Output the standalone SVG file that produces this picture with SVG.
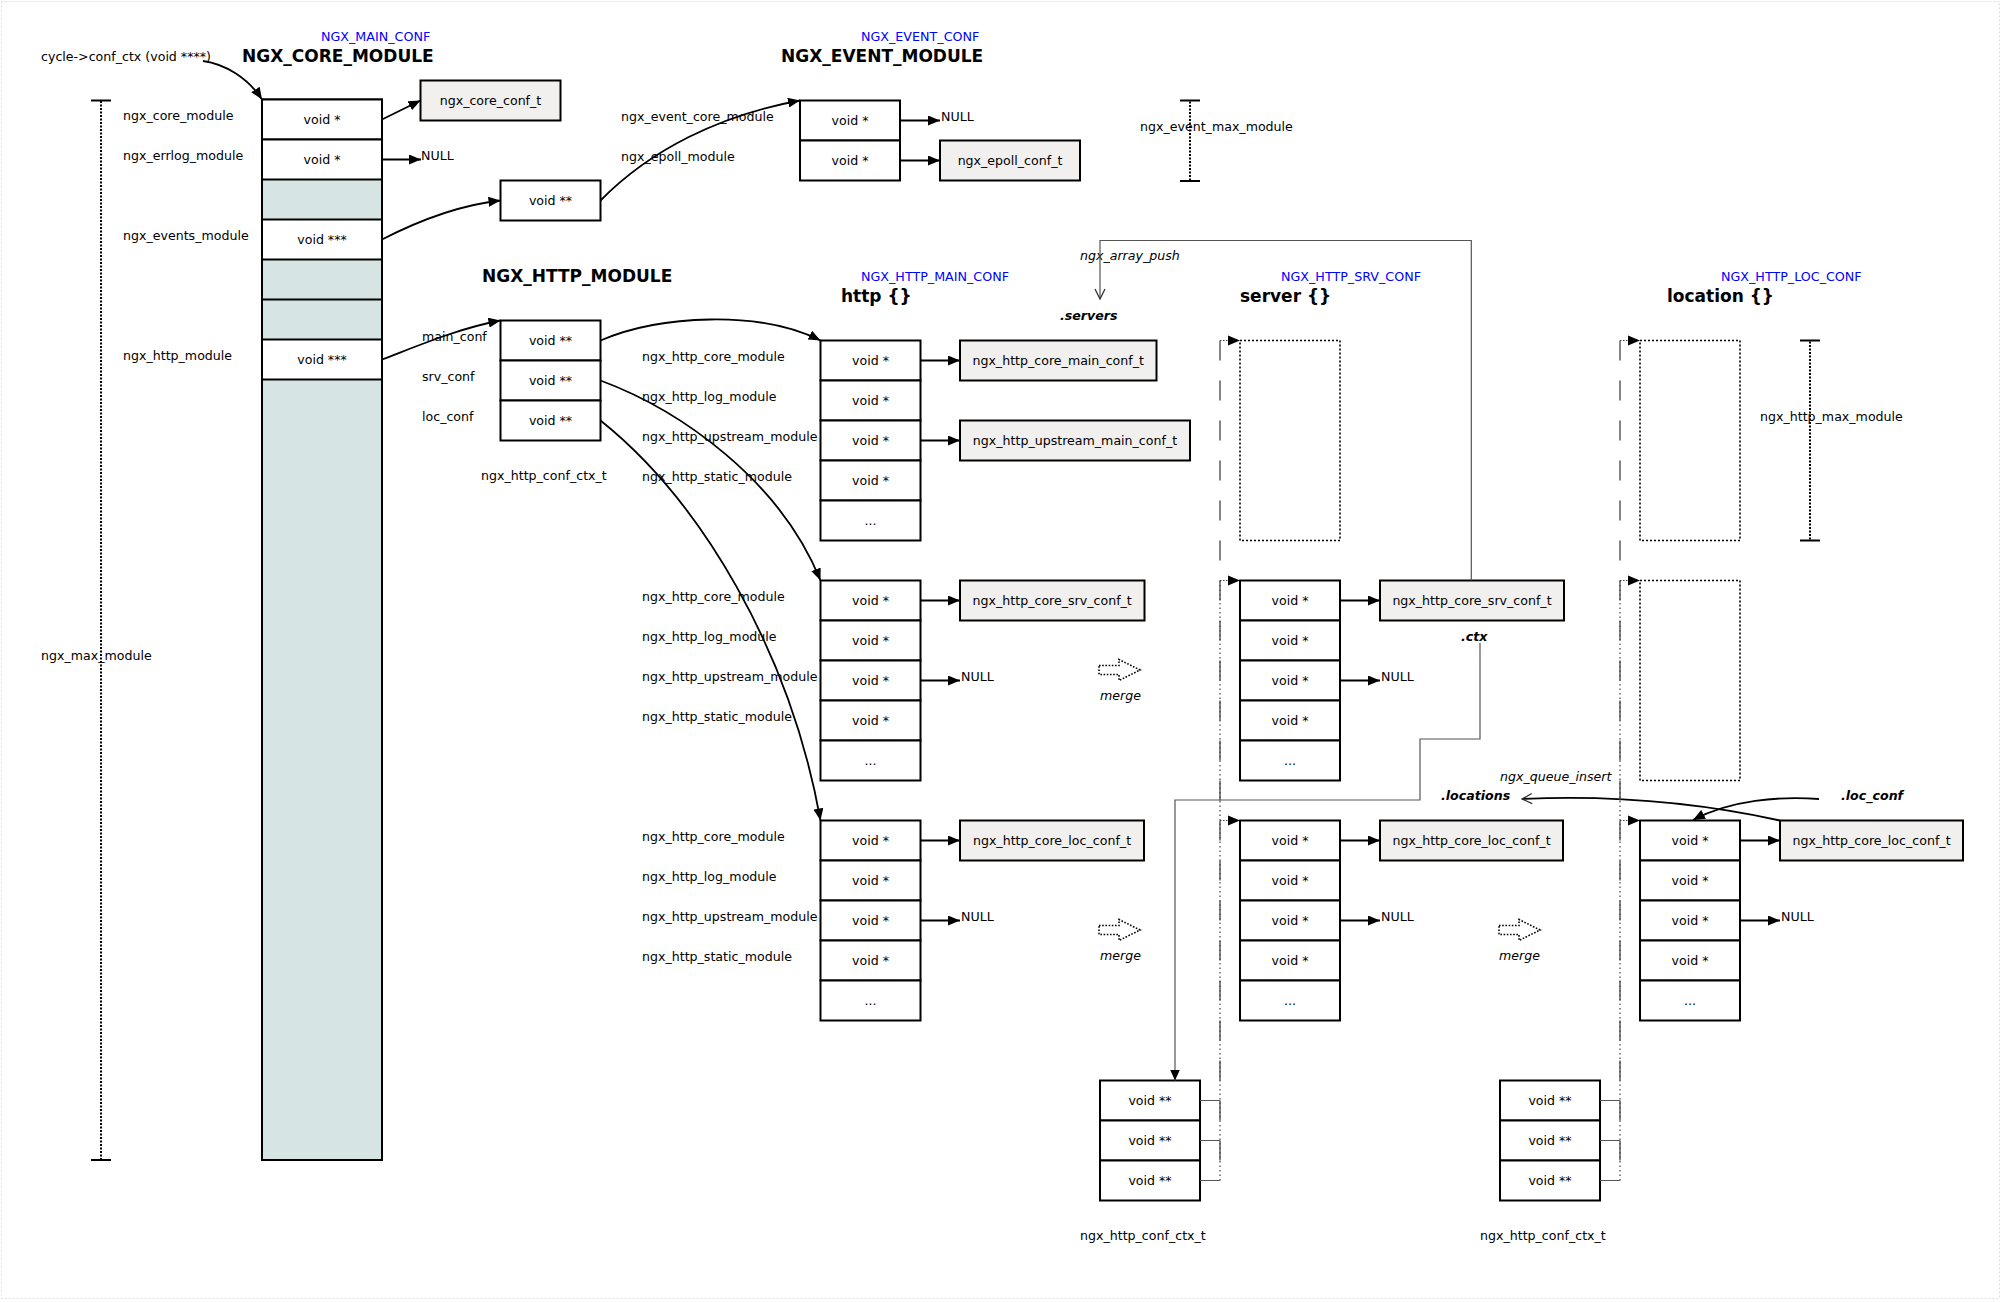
<svg xmlns="http://www.w3.org/2000/svg" width="2002" height="1302" viewBox="0 0 2002 1302">
<style>
.t{font-family:"DejaVu Sans",sans-serif;font-size:12.6px;fill:#000}
.c{text-anchor:middle}
.h{font-weight:bold;font-size:17px}
.bl{fill:#0000ff;font-size:12.7px}
.i{font-style:italic}
.bi{font-weight:bold;font-style:italic}
.cell{fill:#fff;stroke:#000;stroke-width:2}
.sh{fill:#d7e4e4;stroke:#000;stroke-width:2}
.gb{fill:#f1f0ee;stroke:#000;stroke-width:2}
.dot{fill:none;stroke:#000;stroke-width:1.6;stroke-dasharray:2 2}
.br{stroke:#000;stroke-width:2;stroke-dasharray:2 1.5}
.tk{stroke:#000;stroke-width:2}
.ar{fill:none;stroke:#000;stroke-width:1.8}
.gl{fill:none;stroke:#555;stroke-width:1.2}
.mg{fill:none;stroke:#000;stroke-width:1.6;stroke-dasharray:1.6 1.6}
</style>
<defs>
<marker id="ah" viewBox="0 0 12 10" refX="12" refY="5" markerWidth="12" markerHeight="10" markerUnits="userSpaceOnUse" orient="auto"><path d="M0,0 L12,5 L0,10 z" fill="#000"/></marker>
<marker id="ah2" viewBox="0 0 11 10" refX="11" refY="5" markerWidth="11" markerHeight="10" markerUnits="userSpaceOnUse" orient="auto"><path d="M0,0 L11,5 L0,10 z" fill="#000"/></marker>
<marker id="oh" viewBox="0 0 12 12" refX="11" refY="6" markerWidth="12" markerHeight="12" markerUnits="userSpaceOnUse" orient="auto"><path d="M1,1 L11,6 L1,11" fill="none" stroke="#333" stroke-width="1.3"/></marker>
<polygon id="mergeArrow" points="0,-4.5 20,-4.5 20,-10.5 41,0 20,10.5 20,4.5 0,4.5" class="mg"/>
</defs>
<rect x="1.5" y="1.5" width="1998" height="1297" fill="#fff" stroke="#ddd" stroke-width="1" stroke-dasharray="2 2"/>

<!-- headers -->
<g id="headers">
<text class="t bl" x="321" y="41">NGX_MAIN_CONF</text>
<text class="t h" x="242" y="62">NGX_CORE_MODULE</text>
<text class="t bl" x="861" y="41">NGX_EVENT_CONF</text>
<text class="t h" x="781" y="62">NGX_EVENT_MODULE</text>
<text class="t h" x="482" y="282">NGX_HTTP_MODULE</text>
<text class="t bl" x="861" y="281">NGX_HTTP_MAIN_CONF</text>
<text class="t h" x="841" y="302">http {}</text>
<text class="t bl" x="1281" y="281">NGX_HTTP_SRV_CONF</text>
<text class="t h" x="1240" y="302">server {}</text>
<text class="t bl" x="1721" y="281">NGX_HTTP_LOC_CONF</text>
<text class="t h" x="1667" y="302">location {}</text>
<text class="t" x="41" y="61">cycle-&gt;conf_ctx (void ****)</text>
</g>

<!-- ngx_max_module bracket -->
<g id="max-module">
<line class="br" x1="101" y1="101" x2="101" y2="1159"/>
<line class="tk" x1="91" y1="100.5" x2="111" y2="100.5"/>
<line class="tk" x1="91" y1="1160" x2="111" y2="1160"/>
<text class="t" x="41" y="660">ngx_max_module</text>
</g>

<!-- core array -->
<g id="core-array">
<rect class="sh" x="262" y="99.5" width="120" height="1060.5"/>
<rect class="cell" x="262" y="99.5" width="120" height="40"/>
<rect class="cell" x="262" y="139.5" width="120" height="40"/>
<rect class="cell" x="262" y="219.5" width="120" height="40"/>
<rect class="cell" x="262" y="339.5" width="120" height="40"/>
<line class="tk" x1="262" y1="299.5" x2="382" y2="299.5"/>
<text class="t c" x="322" y="124">void *</text>
<text class="t c" x="322" y="164">void *</text>
<text class="t c" x="322" y="244">void ***</text>
<text class="t c" x="322" y="364">void ***</text>
<text class="t" x="123" y="120">ngx_core_module</text>
<text class="t" x="123" y="160">ngx_errlog_module</text>
<text class="t" x="123" y="240">ngx_events_module</text>
<text class="t" x="123" y="360">ngx_http_module</text>
<text class="t" x="421" y="160">NULL</text>
</g>

<g id="core-conf">
<rect class="gb" x="420.5" y="80.5" width="140" height="40"/>
<text class="t c" x="490.5" y="105">ngx_core_conf_t</text>
</g>

<g id="event-ctx">
<rect class="cell" x="500.5" y="180.5" width="100" height="40"/>
<text class="t c" x="550.5" y="205">void **</text>
</g>

<g id="event-array">
<rect class="cell" x="800" y="100.5" width="100" height="40"/>
<rect class="cell" x="800" y="140.5" width="100" height="40"/>
<text class="t c" x="850" y="125">void *</text>
<text class="t c" x="850" y="165">void *</text>
<text class="t" x="621" y="121">ngx_event_core_module</text>
<text class="t" x="621" y="161">ngx_epoll_module</text>
<text class="t" x="941" y="121">NULL</text>
</g>

<g id="epoll-conf">
<rect class="gb" x="940" y="140.5" width="140" height="40"/>
<text class="t c" x="1010" y="165">ngx_epoll_conf_t</text>
</g>

<g id="event-max">
<line class="br" x1="1190" y1="101.5" x2="1190" y2="180"/>
<line class="tk" x1="1180" y1="100.5" x2="1200" y2="100.5"/>
<line class="tk" x1="1180" y1="181" x2="1200" y2="181"/>
<text class="t" x="1140" y="131">ngx_event_max_module</text>
</g>

<g id="http-ctx">
<rect class="cell" x="500.5" y="320.5" width="100" height="40"/>
<rect class="cell" x="500.5" y="360.5" width="100" height="40"/>
<rect class="cell" x="500.5" y="400.5" width="100" height="40"/>
<text class="t c" x="550.5" y="345">void **</text>
<text class="t c" x="550.5" y="385">void **</text>
<text class="t c" x="550.5" y="425">void **</text>
<text class="t" x="422" y="341">main_conf</text>
<text class="t" x="422" y="381">srv_conf</text>
<text class="t" x="422" y="421">loc_conf</text>
<text class="t" x="481" y="480">ngx_http_conf_ctx_t</text>
</g>

<!-- http main array -->
<g id="http-main-array">
<rect class="cell" x="820.5" y="340.5" width="100" height="40"/>
<rect class="cell" x="820.5" y="380.5" width="100" height="40"/>
<rect class="cell" x="820.5" y="420.5" width="100" height="40"/>
<rect class="cell" x="820.5" y="460.5" width="100" height="40"/>
<rect class="cell" x="820.5" y="500.5" width="100" height="40"/>
<text class="t c" x="870.5" y="365">void *</text>
<text class="t c" x="870.5" y="405">void *</text>
<text class="t c" x="870.5" y="445">void *</text>
<text class="t c" x="870.5" y="485">void *</text>
<text class="t c" x="870.5" y="525">...</text>
<text class="t" x="642" y="361">ngx_http_core_module</text>
<text class="t" x="642" y="401">ngx_http_log_module</text>
<text class="t" x="642" y="441">ngx_http_upstream_module</text>
<text class="t" x="642" y="481">ngx_http_static_module</text>
</g>
<g id="core-main-conf">
<rect class="gb" x="960" y="340.5" width="196.5" height="40"/>
<text class="t c" x="1058.2" y="365">ngx_http_core_main_conf_t</text>
</g>
<g id="upstream-main-conf">
<rect class="gb" x="960" y="420.5" width="230" height="40"/>
<text class="t c" x="1075" y="445">ngx_http_upstream_main_conf_t</text>
</g>

<!-- http srv array -->
<g id="http-srv-array">
<rect class="cell" x="820.5" y="580.5" width="100" height="40"/>
<rect class="cell" x="820.5" y="620.5" width="100" height="40"/>
<rect class="cell" x="820.5" y="660.5" width="100" height="40"/>
<rect class="cell" x="820.5" y="700.5" width="100" height="40"/>
<rect class="cell" x="820.5" y="740.5" width="100" height="40"/>
<text class="t c" x="870.5" y="605">void *</text>
<text class="t c" x="870.5" y="645">void *</text>
<text class="t c" x="870.5" y="685">void *</text>
<text class="t c" x="870.5" y="725">void *</text>
<text class="t c" x="870.5" y="765">...</text>
<text class="t" x="642" y="601">ngx_http_core_module</text>
<text class="t" x="642" y="641">ngx_http_log_module</text>
<text class="t" x="642" y="681">ngx_http_upstream_module</text>
<text class="t" x="642" y="721">ngx_http_static_module</text>
<text class="t" x="961" y="681">NULL</text>
</g>
<g id="http-core-srv-conf">
<rect class="gb" x="960" y="580.5" width="184.5" height="40"/>
<text class="t c" x="1052.2" y="605">ngx_http_core_srv_conf_t</text>
</g>

<!-- http loc array -->
<g id="http-loc-array">
<rect class="cell" x="820.5" y="820.5" width="100" height="40"/>
<rect class="cell" x="820.5" y="860.5" width="100" height="40"/>
<rect class="cell" x="820.5" y="900.5" width="100" height="40"/>
<rect class="cell" x="820.5" y="940.5" width="100" height="40"/>
<rect class="cell" x="820.5" y="980.5" width="100" height="40"/>
<text class="t c" x="870.5" y="845">void *</text>
<text class="t c" x="870.5" y="885">void *</text>
<text class="t c" x="870.5" y="925">void *</text>
<text class="t c" x="870.5" y="965">void *</text>
<text class="t c" x="870.5" y="1005">...</text>
<text class="t" x="642" y="841">ngx_http_core_module</text>
<text class="t" x="642" y="881">ngx_http_log_module</text>
<text class="t" x="642" y="921">ngx_http_upstream_module</text>
<text class="t" x="642" y="961">ngx_http_static_module</text>
<text class="t" x="961" y="921">NULL</text>
</g>
<g id="http-core-loc-conf">
<rect class="gb" x="960" y="820.5" width="184" height="40"/>
<text class="t c" x="1052" y="845">ngx_http_core_loc_conf_t</text>
</g>

<g id="merge1"><use href="#mergeArrow" x="1099" y="670"/><text class="t i" x="1100" y="700">merge</text></g>
<g id="merge2"><use href="#mergeArrow" x="1099" y="930"/><text class="t i" x="1100" y="960">merge</text></g>
<g id="merge3"><use href="#mergeArrow" x="1499" y="930"/><text class="t i" x="1499" y="960">merge</text></g>

<!-- server column -->
<g id="server-main-ref"><rect class="dot" x="1240" y="340.5" width="100" height="200"/></g>
<g id="server-srv-array">
<rect class="cell" x="1240" y="580.5" width="100" height="40"/>
<rect class="cell" x="1240" y="620.5" width="100" height="40"/>
<rect class="cell" x="1240" y="660.5" width="100" height="40"/>
<rect class="cell" x="1240" y="700.5" width="100" height="40"/>
<rect class="cell" x="1240" y="740.5" width="100" height="40"/>
<text class="t c" x="1290" y="605">void *</text>
<text class="t c" x="1290" y="645">void *</text>
<text class="t c" x="1290" y="685">void *</text>
<text class="t c" x="1290" y="725">void *</text>
<text class="t c" x="1290" y="765">...</text>
<text class="t" x="1381" y="681">NULL</text>
</g>
<g id="server-core-srv-conf">
<rect class="gb" x="1380" y="580.5" width="184" height="40"/>
<text class="t c" x="1472" y="605">ngx_http_core_srv_conf_t</text>
<text class="t bi" x="1461" y="641">.ctx</text>
</g>
<g id="server-loc-array">
<rect class="cell" x="1240" y="820.5" width="100" height="40"/>
<rect class="cell" x="1240" y="860.5" width="100" height="40"/>
<rect class="cell" x="1240" y="900.5" width="100" height="40"/>
<rect class="cell" x="1240" y="940.5" width="100" height="40"/>
<rect class="cell" x="1240" y="980.5" width="100" height="40"/>
<text class="t c" x="1290" y="845">void *</text>
<text class="t c" x="1290" y="885">void *</text>
<text class="t c" x="1290" y="925">void *</text>
<text class="t c" x="1290" y="965">void *</text>
<text class="t c" x="1290" y="1005">...</text>
<text class="t" x="1381" y="921">NULL</text>
</g>
<g id="server-core-loc-conf">
<rect class="gb" x="1380" y="820.5" width="183" height="40"/>
<text class="t c" x="1471.5" y="845">ngx_http_core_loc_conf_t</text>
</g>
<g id="server-ctx">
<rect class="cell" x="1100" y="1080.5" width="100" height="40"/>
<rect class="cell" x="1100" y="1120.5" width="100" height="40"/>
<rect class="cell" x="1100" y="1160.5" width="100" height="40"/>
<text class="t c" x="1150" y="1105">void **</text>
<text class="t c" x="1150" y="1145">void **</text>
<text class="t c" x="1150" y="1185">void **</text>
<text class="t" x="1080" y="1240">ngx_http_conf_ctx_t</text>
</g>

<!-- location column -->
<g id="location-main-ref"><rect class="dot" x="1640" y="340.5" width="100" height="200"/></g>
<g id="location-srv-ref"><rect class="dot" x="1640" y="580.5" width="100" height="200"/></g>
<g id="location-loc-array">
<rect class="cell" x="1640" y="820.5" width="100" height="40"/>
<rect class="cell" x="1640" y="860.5" width="100" height="40"/>
<rect class="cell" x="1640" y="900.5" width="100" height="40"/>
<rect class="cell" x="1640" y="940.5" width="100" height="40"/>
<rect class="cell" x="1640" y="980.5" width="100" height="40"/>
<text class="t c" x="1690" y="845">void *</text>
<text class="t c" x="1690" y="885">void *</text>
<text class="t c" x="1690" y="925">void *</text>
<text class="t c" x="1690" y="965">void *</text>
<text class="t c" x="1690" y="1005">...</text>
<text class="t" x="1781" y="921">NULL</text>
</g>
<g id="location-core-loc-conf">
<rect class="gb" x="1780" y="820.5" width="183" height="40"/>
<text class="t c" x="1871.5" y="845">ngx_http_core_loc_conf_t</text>
</g>
<g id="location-ctx">
<rect class="cell" x="1500" y="1080.5" width="100" height="40"/>
<rect class="cell" x="1500" y="1120.5" width="100" height="40"/>
<rect class="cell" x="1500" y="1160.5" width="100" height="40"/>
<text class="t c" x="1550" y="1105">void **</text>
<text class="t c" x="1550" y="1145">void **</text>
<text class="t c" x="1550" y="1185">void **</text>
<text class="t" x="1480" y="1240">ngx_http_conf_ctx_t</text>
</g>
<g id="http-max">
<line class="br" x1="1810" y1="341.5" x2="1810" y2="539.5"/>
<line class="tk" x1="1800" y1="340.5" x2="1820" y2="340.5"/>
<line class="tk" x1="1800" y1="540.5" x2="1820" y2="540.5"/>
<text class="t" x="1760" y="421">ngx_http_max_module</text>
</g>

<g id="labels">
<text class="t i" x="1080" y="260">ngx_array_push</text>
<text class="t bi" x="1060" y="320">.servers</text>
<text class="t i" x="1500" y="781">ngx_queue_insert</text>
<text class="t bi" x="1441" y="800">.locations</text>
<text class="t bi" x="1841" y="800">.loc_conf</text>
</g>

<!-- connectors -->
<g id="connectors">
<path class="ar" d="M203,61 C225,64 248,78 262,99.5" marker-end="url(#ah)"/>
<line class="ar" x1="382" y1="119.5" x2="420.5" y2="100.5" marker-end="url(#ah)"/>
<line class="ar" x1="382" y1="159.5" x2="421" y2="159.5" marker-end="url(#ah)"/>
<path class="ar" d="M382,239.5 C420,220 460,205 500.5,200.5" marker-end="url(#ah)"/>
<path class="ar" d="M382,359.5 C420,345 460,328 500.5,320.5" marker-end="url(#ah)"/>
<path class="ar" d="M600.5,200.5 C650,150 720,115 800,100.5" marker-end="url(#ah)"/>
<line class="ar" x1="900" y1="120.5" x2="940" y2="120.5" marker-end="url(#ah)"/>
<line class="ar" x1="900" y1="160.5" x2="940" y2="160.5" marker-end="url(#ah)"/>
<path class="ar" d="M600.5,340.5 C660,315 760,310 820.5,340.5" marker-end="url(#ah)"/>
<path class="ar" d="M600.5,380.5 C680,410 780,480 820.5,580.5" marker-end="url(#ah)"/>
<path class="ar" d="M600.5,420.5 C700,500 790,650 820.5,820.5" marker-end="url(#ah)"/>
<line class="ar" x1="920.5" y1="360.5" x2="960" y2="360.5" marker-end="url(#ah)"/>
<line class="ar" x1="920.5" y1="440.5" x2="960" y2="440.5" marker-end="url(#ah)"/>
<line class="ar" x1="920.5" y1="600.5" x2="960" y2="600.5" marker-end="url(#ah)"/>
<line class="ar" x1="920.5" y1="680.5" x2="960" y2="680.5" marker-end="url(#ah)"/>
<line class="ar" x1="920.5" y1="840.5" x2="960" y2="840.5" marker-end="url(#ah)"/>
<line class="ar" x1="920.5" y1="920.5" x2="960" y2="920.5" marker-end="url(#ah)"/>
<line class="ar" x1="1340" y1="600.5" x2="1380" y2="600.5" marker-end="url(#ah)"/>
<line class="ar" x1="1340" y1="680.5" x2="1380" y2="680.5" marker-end="url(#ah)"/>
<line class="ar" x1="1340" y1="840.5" x2="1380" y2="840.5" marker-end="url(#ah)"/>
<line class="ar" x1="1340" y1="920.5" x2="1380" y2="920.5" marker-end="url(#ah)"/>
<line class="ar" x1="1740" y1="840.5" x2="1780" y2="840.5" marker-end="url(#ah)"/>
<line class="ar" x1="1740" y1="920.5" x2="1780" y2="920.5" marker-end="url(#ah)"/>
<!-- ngx_array_push -->
<path class="gl" d="M1471.3,580.5 V240.5 H1100 V299" marker-end="url(#oh)"/>
<!-- .ctx -->
<path class="gl" d="M1480,643 V739 H1420 V800 H1175 V1080.5" marker-end="url(#ah2)"/>
<!-- ngx_queue_insert -->
<path class="ar" d="M1780,820.5 C1700,803 1610,795 1522,799" marker-end="url(#oh)"/>
<!-- .loc_conf -->
<path class="ar" d="M1819,799 C1780,796 1730,800 1693,820" marker-end="url(#ah)"/>
<!-- server ctx pointers -->
<line x1="1220" y1="340.5" x2="1220" y2="1180.5" stroke="#444" stroke-width="1.3" stroke-dasharray="20 20"/>
<line x1="1220" y1="580.5" x2="1220" y2="1180.5" stroke="#444" stroke-width="1.2" stroke-dasharray="1.5 3"/>
<path class="gl" d="M1200,1100.5 H1220 M1200,1140.5 H1220 M1200,1180.5 H1220"/>
<path d="M1220,340.5 H1229 M1220,580.5 H1229 M1220,820.5 H1229" stroke="#444" stroke-width="1.2" stroke-dasharray="1.5 1.5"/>
<path d="M1228,335.5 L1240,340.5 L1228,345.5 z M1228,575.5 L1240,580.5 L1228,585.5 z M1228,815.5 L1240,820.5 L1228,825.5 z" fill="#000"/>
<!-- location ctx pointers -->
<line x1="1620" y1="340.5" x2="1620" y2="1180.5" stroke="#444" stroke-width="1.3" stroke-dasharray="20 20"/>
<line x1="1620" y1="580.5" x2="1620" y2="1180.5" stroke="#444" stroke-width="1.2" stroke-dasharray="1.5 3"/>
<path class="gl" d="M1600,1100.5 H1620 M1600,1140.5 H1620 M1600,1180.5 H1620"/>
<path d="M1620,340.5 H1629 M1620,580.5 H1629 M1620,820.5 H1629" stroke="#444" stroke-width="1.2" stroke-dasharray="1.5 1.5"/>
<path d="M1628,335.5 L1640,340.5 L1628,345.5 z M1628,575.5 L1640,580.5 L1628,585.5 z M1628,815.5 L1640,820.5 L1628,825.5 z" fill="#000"/>
</g>
</svg>
